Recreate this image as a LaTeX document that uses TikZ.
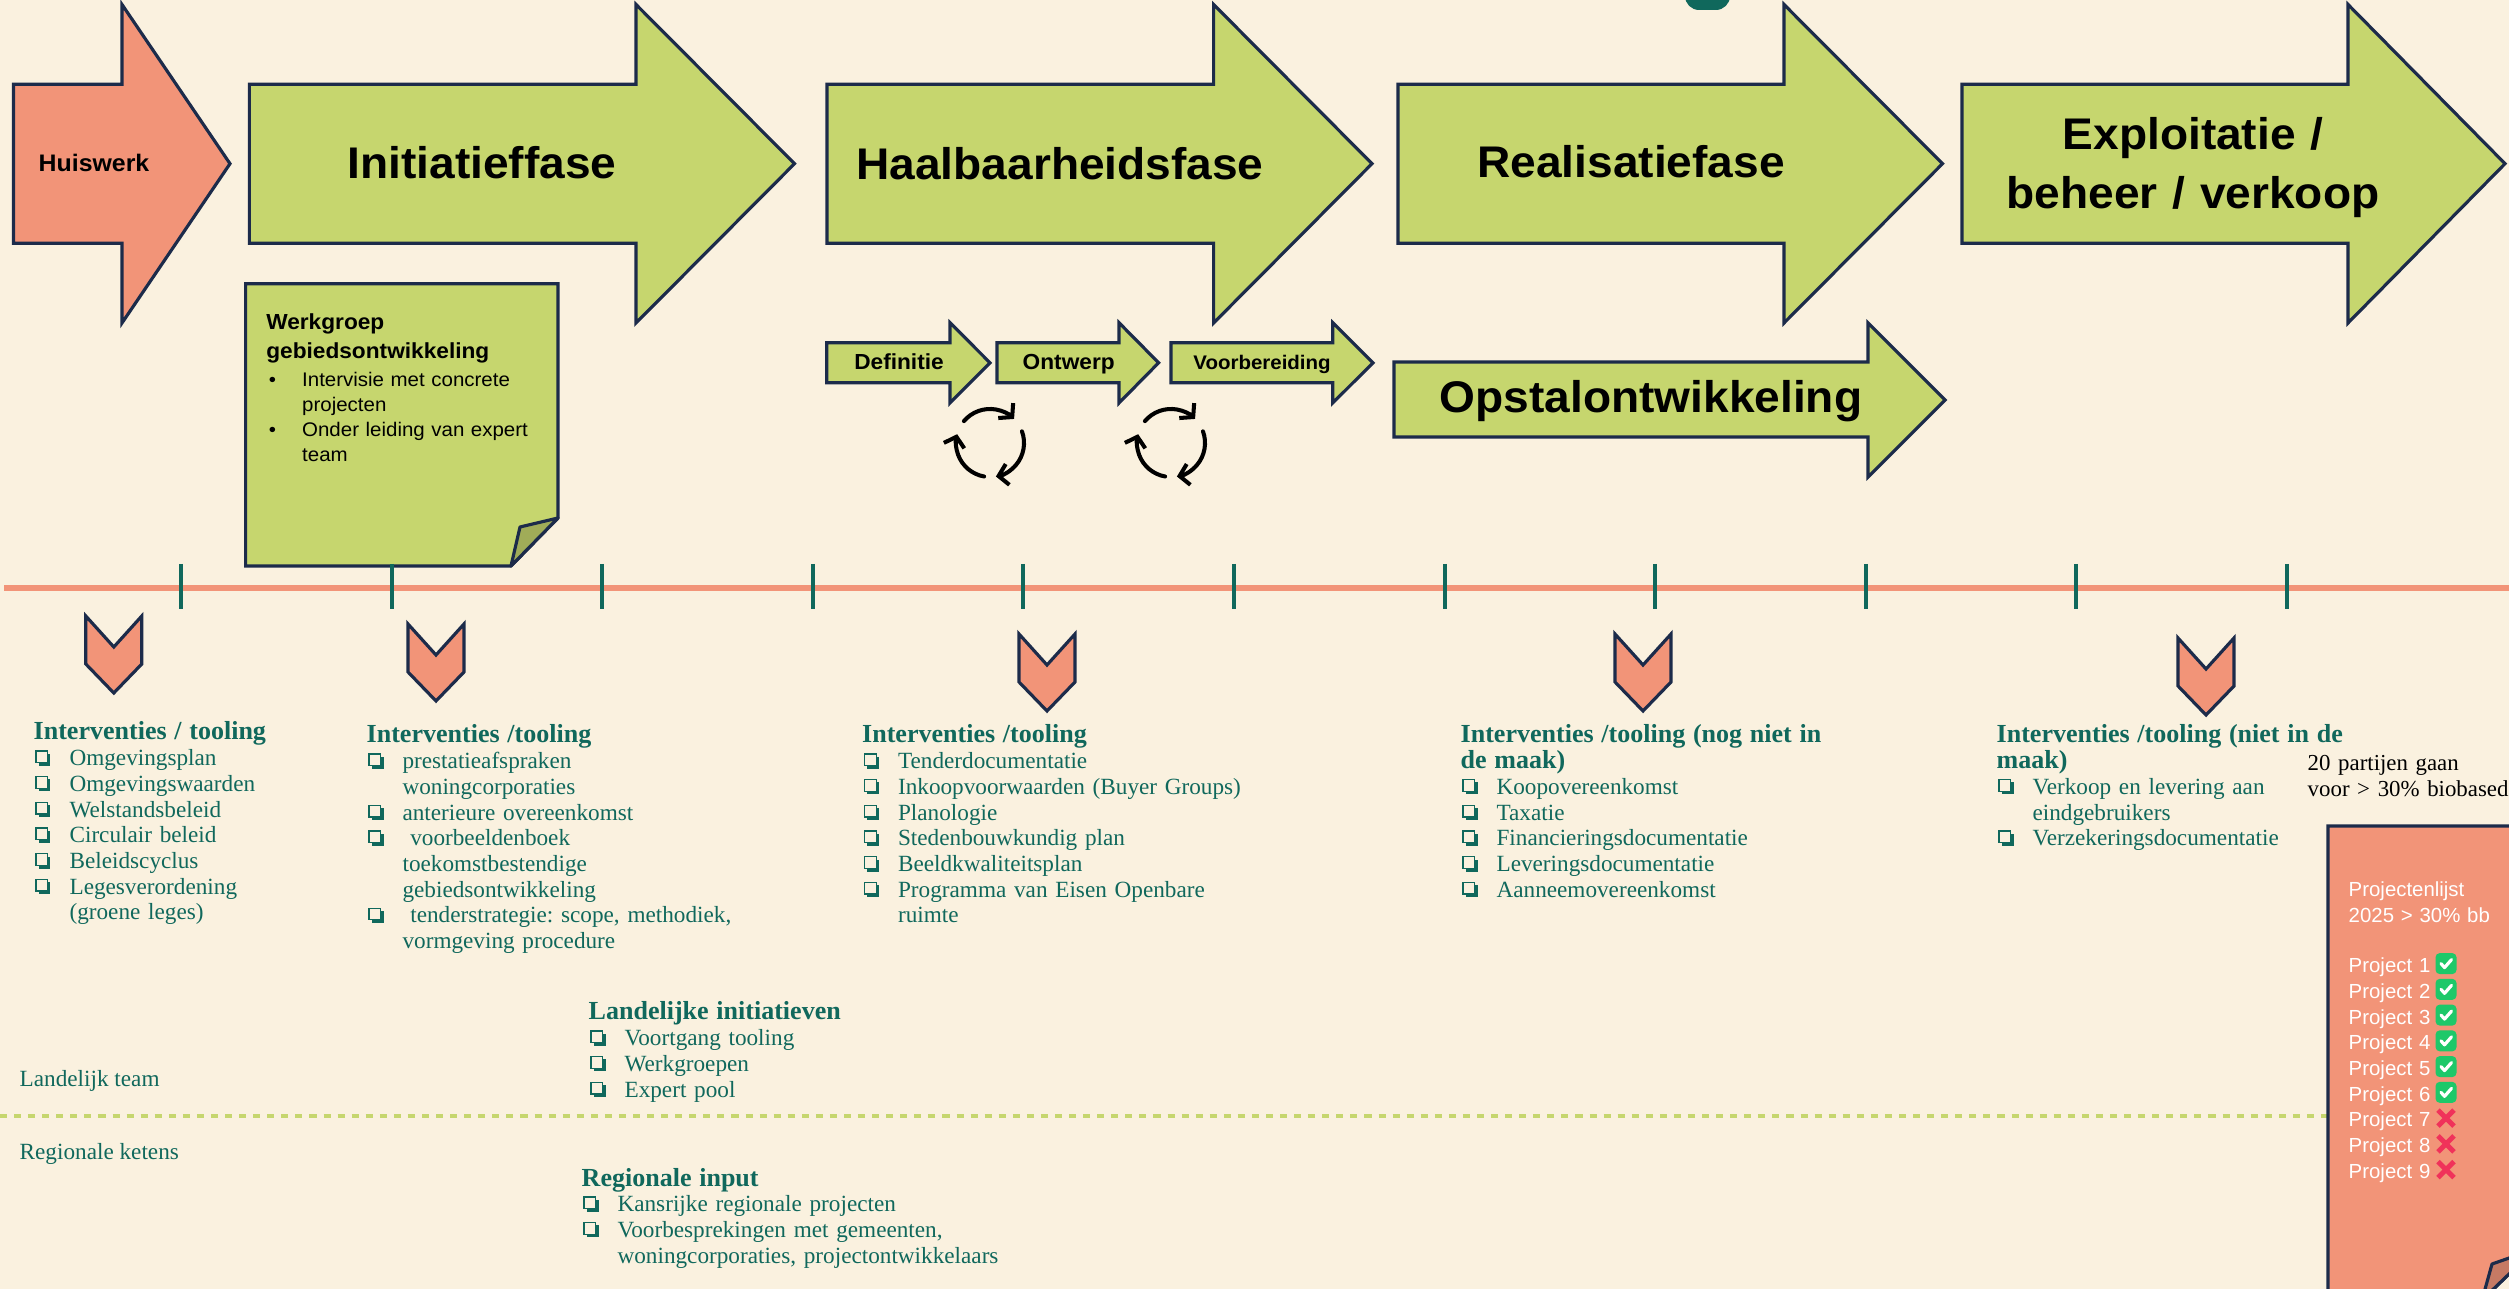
\documentclass[tikz,border=0pt]{standalone}
\usepackage{fontspec}
\setmainfont{Liberation Serif}
\newfontfamily\koppen[FakeStretch=1.04]{Liberation Sans}
\newfontfamily\lijstfont{Liberation Sans}
\usepackage{xcolor}
\usetikzlibrary{calc,arrows.meta}
\setlength{\parskip}{0pt}
\frenchspacing

\definecolor{achter}{RGB}{250,241,223}
\definecolor{groen}{RGB}{198,214,110}
\definecolor{groendonker}{RGB}{160,172,88}
\definecolor{zalm}{RGB}{242,148,120}
\definecolor{zalmdonker}{RGB}{198,122,100}
\definecolor{rand}{RGB}{28,43,74}
\definecolor{petrol}{RGB}{16,104,92}
\definecolor{vinkgroen}{RGB}{30,200,105}
\definecolor{kruisrood}{RGB}{240,50,90}

\newlength{\inspring}
\setlength{\inspring}{10.2pt}
% vakje met schaduw, zoals in de lijsten
\newcommand{\vakje}{\tikz[baseline=0pt,x=1pt,y=1pt]{\fill[petrol] (0.8,0) rectangle (4.1,3.4); \filldraw[fill=achter,draw=petrol,line width=0.35pt] (0,0.9) rectangle (3.3,4.2);}}
\newcommand{\kop}[1]{{\bfseries\fontsize{7.4}{7.31}\selectfont #1\par}}
\newcommand{\punt}[1]{\noindent\hangindent=\inspring\hangafter=1\makebox[\inspring][l]{\hspace{0.5pt}\vakje}#1\par}
\newcommand{\bol}[1]{\noindent\hangindent=\inspring\hangafter=1\makebox[\inspring][l]{\hspace{0.7pt}\textbullet}#1\par}

\begin{document}
\begin{tikzpicture}[x=0.01cm, y=-0.01cm,
	fase/.style={draw=rand, fill=groen, line width=0.9pt, line join=miter},
	huis/.style={fase, fill=zalm},
	fasetekst/.style={font=\koppen\bfseries\fontsize{12.6}{16.5}\selectfont, anchor=base, inner sep=0pt},
	stap/.style={font=\koppen\bfseries\fontsize{6.2}{7}\selectfont, anchor=base, inner sep=0pt},
	notitie/.style={draw=rand, fill=groen, line width=0.9pt},
	vouw/.style={draw=rand, fill=groendonker, line width=0.9pt, line join=round},
	punthaak/.style={draw=rand, fill=zalm, line width=0.9pt},
	tijdlijn/.style={draw=zalm, line width=1.75pt},
	streep/.style={draw=petrol, line width=1.1pt},
	stippel/.style={draw=groen, line width=1.4pt, dash pattern=on 2pt off 2pt},
	kring/.style={line width=1.15pt, line cap=round, -{Straight Barb[length=2.6pt,width=6pt]}},
	blok/.style={anchor=base west, inner sep=0pt, text width=12cm, align=left, text=petrol, font=\fontsize{6.6}{7.31}\selectfont},
	zijtekst/.style={anchor=base west, inner sep=0pt, text=petrol, font=\fontsize{6.6}{7.31}\selectfont},
	notetekst/.style={anchor=base west, inner sep=0pt, text width=4cm, align=left, font=\koppen\fontsize{5.6}{7.1}\selectfont},
	lijst/.style={anchor=base west, inner sep=0pt, text width=2cm, align=left, text=white, font=\lijstfont\fontsize{5.8}{7.31}\selectfont}]
	\useasboundingbox (0,0) rectangle (2509,1289);
	\fill[achter] (0,0) rectangle (2509,1289);
	\clip (0,0) rectangle (2509,1289);
	\fill[petrol, rounded corners=4pt] (1685,-30) rectangle (1730,10);
	
	% fasen
	\draw[huis] (13.5,84.3) -- (122,84.3) -- (122,4.5) -- (230,163.7) -- (122,323) -- (122,243.3) -- (13.5,243.3) -- cycle;
	\draw[fase] (249.4,84.3) -- (636,84.3) -- (636,4.5) -- (794.5,163.7) -- (636,323) -- (636,243.3) -- (249.4,243.3) -- cycle;
	\draw[fase] (827,84.3) -- (1213.6,84.3) -- (1213.6,4.5) -- (1372,163.7) -- (1213.6,323) -- (1213.6,243.3) -- (827,243.3) -- cycle;
	\draw[fase] (1398,84.3) -- (1784,84.3) -- (1784,4.5) -- (1942.5,163.7) -- (1784,323) -- (1784,243.3) -- (1398,243.3) -- cycle;
	\draw[fase] (1962,84.3) -- (2348,84.3) -- (2348,4.5) -- (2505,163.7) -- (2348,323) -- (2348,243.3) -- (1962,243.3) -- cycle;
	\draw[fase] (1394,362) -- (1868,362) -- (1868,323) -- (1945,400) -- (1868,477) -- (1868,437) -- (1394,437) -- cycle;
	
	\node[fasetekst, font=\koppen\bfseries\fontsize{6.8}{8}\selectfont] (hw) at (94,172) {Huiswerk};
	\node[fasetekst] (init) at (482,179) {Initiatieffase};
	\node[fasetekst] (haal) at (1060,180) {Haalbaarheidsfase};
	\node[fasetekst] (real) at (1631,178) {Realisatiefase};
	\node[fasetekst, text width=4cm, align=center] (expl) at (2193,150) {Exploitatie /\\beheer / verkoop};
	\node[fasetekst] (opstal) at (1651,413) {Opstalontwikkeling};
	
	% stappen haalbaarheid
	\draw[fase] (826.8,342.7) -- (950,342.7) -- (950,322.7) -- (990,362.8) -- (950,403) -- (950,382.7) -- (826.8,382.7) -- cycle;
	\draw[fase] (997,342.7) -- (1119,342.7) -- (1119,322.7) -- (1158.6,362.8) -- (1119,403) -- (1119,382.7) -- (997,382.7) -- cycle;
	\draw[fase] (1171,342.7) -- (1332.7,342.7) -- (1332.7,322.7) -- (1373,362.8) -- (1332.7,403) -- (1332.7,382.7) -- (1171,382.7) -- cycle;
	\node[stap] (def) at (899,370) {Definitie};
	\node[stap] (ontw) at (1068.7,370) {Ontwerp};
	\node[stap, font=\koppen\bfseries\fontsize{5.6}{7}\selectfont] (voorb) at (1262,370) {Voorbereiding};
	
	\foreach \c in {990,1171}{
		\draw[kring] ($(\c,443)+(140:0.34cm)$) arc[start angle=140, end angle=45, radius=0.34cm];
		\draw[kring] ($(\c,443)+(20:0.34cm)$) arc[start angle=20, end angle=-80, radius=0.34cm];
		\draw[kring] ($(\c,443)+(-100:0.34cm)$) arc[start angle=-100, end angle=-195, radius=0.34cm];
	}
	
	% notitie werkgroep
	\draw[notitie] (245.6,283.7) -- (558,283.7) -- (558,518) -- (511,566) -- (245.6,566) -- cycle;
	\draw[vouw] (558,518) -- (520,527) -- (511,566) -- cycle;
	\node[notetekst] (wg) at (265.6,330) {{\bfseries\fontsize{6.2}{7.97}\selectfont Werkgroep\newline gebiedsontwikkeling\par}\vspace{1pt}\bol{Intervisie met concrete\newline projecten}\bol{Onder leiding van expert\newline team}};
	
	% tijdlijn
	\draw[tijdlijn] (4,588) -- (2509,588);
	\foreach \i in {0,...,10}
		\draw[streep] ({181+210.6*\i},564) -- ({181+210.6*\i},609);
	
	\foreach \cx/\ty in {113.8/616, 436/624, 1047/634, 1643/634, 2206/638}
		\draw[punthaak] ({\cx-28},\ty) -- (\cx,{\ty+31}) -- ({\cx+28},\ty) -- ({\cx+28},{\ty+48}) -- (\cx,{\ty+77}) -- ({\cx-28},{\ty+48}) -- cycle;
	
	% interventies
	\node[blok] (int1) at (33,740) {\kop{Interventies / tooling}
		\punt{Omgevingsplan}
		\punt{Omgevingswaarden}
		\punt{Welstandsbeleid}
		\punt{Circulair beleid}
		\punt{Beleidscyclus}
		\punt{Legesverordening\newline (groene leges)}};
	\node[blok] (int2) at (366,743) {\kop{Interventies /tooling}
		\punt{prestatieafspraken\newline woningcorporaties}
		\punt{anterieure overeenkomst}
		\punt{\ voorbeeldenboek\newline toekomstbestendige\newline gebiedsontwikkeling}
		\punt{\ tenderstrategie: scope, methodiek,\newline vormgeving procedure}};
	\node[blok] (int3) at (861.5,743) {\kop{Interventies /tooling}
		\punt{Tenderdocumentatie}
		\punt{Inkoopvoorwaarden (Buyer Groups)}
		\punt{Planologie}
		\punt{Stedenbouwkundig plan}
		\punt{Beeldkwaliteitsplan}
		\punt{Programma van Eisen Openbare\newline ruimte}};
	\node[blok] (int4) at (1460,743) {\kop{Interventies /tooling (nog niet in\newline de maak)}
		\punt{Koopovereenkomst}
		\punt{Taxatie}
		\punt{Financieringsdocumentatie}
		\punt{Leveringsdocumentatie}
		\punt{Aanneemovereenkomst}};
	\node[blok] (int5) at (1996,743) {\kop{Interventies /tooling (niet in de\newline maak)}
		\punt{Verkoop en levering aan\newline eindgebruikers}
		\punt{Verzekeringsdocumentatie}};
	\node[blok, text=black, font=\fontsize{6.5}{7.31}\selectfont] (partijen) at (2307,771) {20 partijen gaan\newline voor > 30\% biobased};
	
	% landelijk en regionaal
	\node[blok] (land) at (588,1020) {\kop{Landelijke initiatieven}
		\punt{Voortgang tooling}
		\punt{Werkgroepen}
		\punt{Expert pool}};
	\node[zijtekst] (lteam) at (19,1086) {Landelijk team};
	\draw[stippel] (0,1116) -- (2330,1116);
	\node[zijtekst] (rketens) at (19,1159) {Regionale ketens};
	\node[blok] (regio) at (581,1186) {\kop{Regionale input}
		\punt{Kansrijke regionale projecten}
		\punt{Voorbesprekingen met gemeenten,\newline woningcorporaties, projectontwikkelaars}};
	
	% projectenlijst
	\draw[notitie, fill=zalm] (2328,826) -- (2535,826) -- (2535,1249) -- (2482,1300) -- (2328,1300) -- cycle;
	\draw[vouw, fill=zalmdonker] (2535,1249) -- (2492,1264) -- (2482,1300) -- cycle;
	\node[lijst] (plijst) at (2348,897) {Projectenlijst\newline 2025 > 30\% bb\par\vspace{6.9pt}Project 1\newline Project 2\newline Project 3\newline Project 4\newline Project 5\newline Project 6\newline Project 7\newline Project 8\newline Project 9};
	\foreach \i in {1,...,6}{
		\fill[vinkgroen, rounded corners=1.2pt] (2435.5,{953.1+25.75*(\i-1)}) rectangle ++(21,21);
		\draw[white, line width=0.9pt, line cap=round, line join=round] (2441,{963.6+25.75*(\i-1)}) -- ++(3.5,4) -- ++(7,-8);
	}
	\foreach \i in {7,8,9}
		\draw[kruisrood, line width=1.4pt] (2438,{955.6+25.75*(\i-1)}) -- ++(16,16) (2454,{955.6+25.75*(\i-1)}) -- ++(-16,16);
\end{tikzpicture}
\end{document}
